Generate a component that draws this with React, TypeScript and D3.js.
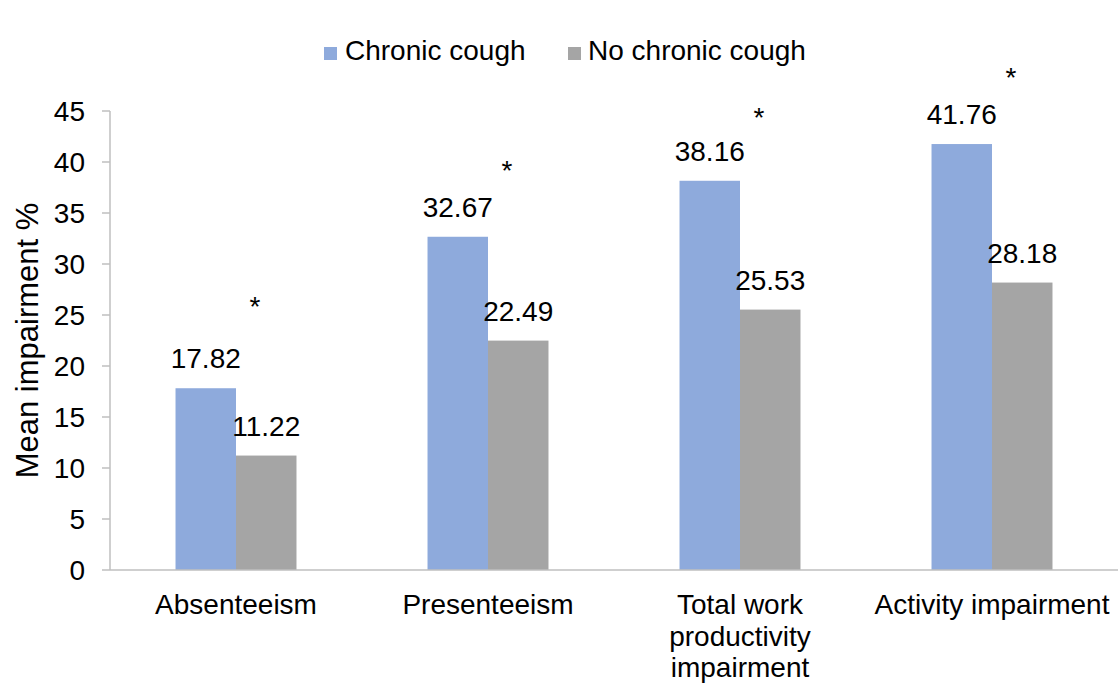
import React from "react";
import * as d3 from "d3";

const categories: string[][] = [
  ["Absenteeism"],
  ["Presenteeism"],
  ["Total work", "productivity", "impairment"],
  ["Activity impairment"],
];
const categoryKeys = ["Absenteeism", "Presenteeism", "Total work productivity impairment", "Activity impairment"];
const seriesNames = ["Chronic cough", "No chronic cough"];
const chronicCough = [17.82, 32.67, 38.16, 41.76];
const noChronicCough = [11.22, 22.49, 25.53, 28.18];
const significanceY = [26.8, 40.2, 45.4, 49.3];
const yTicks = [0, 5, 10, 15, 20, 25, 30, 35, 40, 45];

const W = 1119;
const H = 684;
const FONT = "'Liberation Sans', Arial, sans-serif";
const COLORS = ["#8eaadc", "#a5a5a5"];

export default function App() {
  const x0 = d3.scaleBand<string>().domain(categoryKeys).range([110, 1118]).paddingInner(0.52).paddingOuter(0.26);
  const x1 = d3.scaleBand<string>().domain(seriesNames).range([0, x0.bandwidth()]);
  const y = d3.scaleLinear().domain([0, 45]).range([570, 111]);
  const series = [chronicCough, noChronicCough];
  const fs = 28;

  return (
    <svg width={W} height={H} style={{ position: "absolute", left: 0, top: 0, background: "#fff" }} fontFamily={FONT}>
      <rect width={W} height={H} fill="#fff" />
      {/* legend */}
      <g>
        <rect x={324} y={47} width={13} height={13} fill={COLORS[0]} />
        <text x={345} y={60} fontSize={fs} fill="#000">{seriesNames[0]}</text>
        <rect x={568} y={47} width={13} height={13} fill={COLORS[1]} />
        <text x={588} y={60} fontSize={fs} fill="#000">{seriesNames[1]}</text>
      </g>
      {/* y axis */}
      <line x1={110} x2={110} y1={y(45)} y2={y(0)} stroke="#bfbfbf" strokeWidth={1.5} />
      {yTicks.map((t) => (
        <g key={t}>
          <line x1={102} x2={110} y1={y(t)} y2={y(t)} stroke="#bfbfbf" strokeWidth={1.5} />
          <text x={85} y={y(t)} dy="0.35em" textAnchor="end" fontSize={fs} fill="#000">{t}</text>
        </g>
      ))}
      <text transform={`translate(38,${(y(0) + y(45)) / 2}) rotate(-90)`} textAnchor="middle" fontSize={31} fill="#000">
        Mean impairment %
      </text>
      {/* bars */}
      {categoryKeys.map((c, i) => (
        <g key={c} transform={`translate(${x0(c)},0)`}>
          {series.map((s, j) => (
            <g key={j}>
              <rect x={x1(seriesNames[j])} y={y(s[i])} width={x1.bandwidth()} height={y(0) - y(s[i])} fill={COLORS[j]} />
              <text x={(x1(seriesNames[j]) as number) + x1.bandwidth() / 2} y={y(s[i]) - 20} textAnchor="middle" fontSize={fs} fill="#000">
                {s[i].toFixed(2)}
              </text>
            </g>
          ))}
          <text x={x0.bandwidth() / 2 + 19} y={y(significanceY[i])} dy="0.7em" textAnchor="middle" fontSize={fs} fill="#000">*</text>
        </g>
      ))}
      {/* x axis */}
      <line x1={110} x2={1118} y1={y(0)} y2={y(0)} stroke="#bfbfbf" strokeWidth={1.5} />
      {categoryKeys.map((c, i) => (
        <text key={c} textAnchor="middle" fontSize={fs} fill="#000">
          {categories[i].map((line, k) => (
            <tspan key={k} x={(x0(c) as number) + x0.bandwidth() / 2} y={614 + k * 31.7}>{line}</tspan>
          ))}
        </text>
      ))}
    </svg>
  );
}
